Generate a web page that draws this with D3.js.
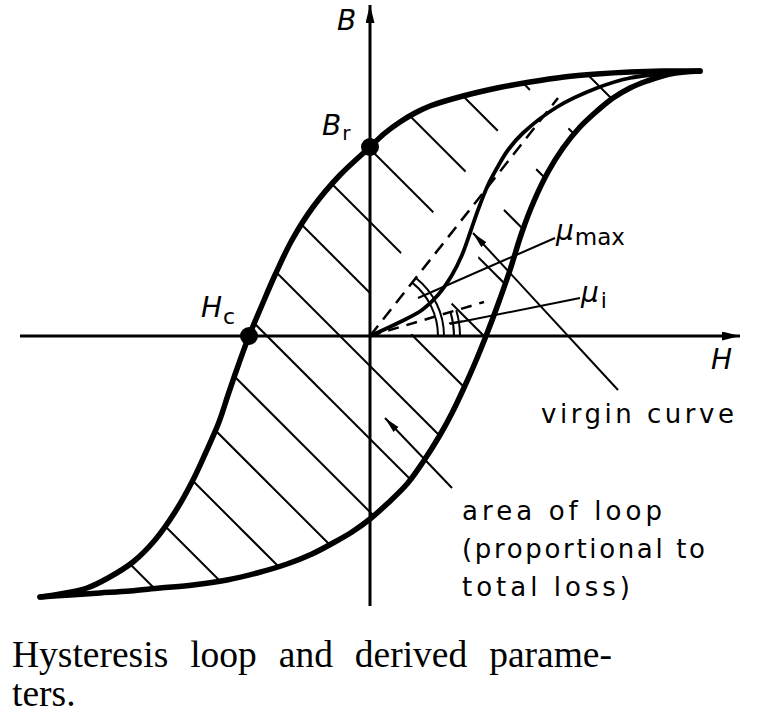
<!DOCTYPE html>
<html><head><meta charset="utf-8">
<script src="https://cdn.jsdelivr.net/npm/d3@7"></script>
<style>body{margin:0;background:#fff}</style>
</head><body>
<svg id="chart" width="760" height="723"></svg>
<script>
// ---- data (H, B) in arbitrary units ----
const upperBranch = [
  [3.30,2.65],[2.93,2.65],[2.60,2.64],[2.27,2.62],[1.94,2.59],[1.60,2.54],[1.27,2.48],
  [0.93,2.40],[0.60,2.30],[0.45,2.23],[0.30,2.14],[0.15,2.03],[0,1.89],[-0.30,1.61],
  [-0.57,1.29],[-0.78,0.96],[-0.95,0.61],[-1.08,0.31],[-1.21,0],[-1.32,-0.30],[-1.42,-0.59],
  [-1.51,-0.86],[-1.64,-1.16],[-1.77,-1.44],[-1.95,-1.76],[-2.15,-2.04],[-2.37,-2.26],
  [-2.62,-2.42],[-2.83,-2.52],[-3.10,-2.58],[-3.30,-2.61]
];
const lowerBranch = [
  [-3.30,-2.61],[-3.00,-2.59],[-2.70,-2.57],[-2.40,-2.55],[-2.10,-2.52],[-1.77,-2.49],
  [-1.43,-2.44],[-1.13,-2.37],[-0.83,-2.28],[-0.58,-2.18],[-0.37,-2.07],[-0.18,-1.96],
  [0,-1.83],[0.18,-1.67],[0.37,-1.48],[0.53,-1.26],[0.70,-0.99],[0.82,-0.77],[0.93,-0.54],
  [1.05,-0.27],[1.16,0],[1.27,0.29],[1.40,0.66],[1.52,1.04],[1.64,1.35],[1.78,1.64],
  [1.93,1.88],[2.10,2.09],[2.27,2.25],[2.43,2.38],[2.60,2.48],[2.77,2.55],[3.00,2.62],[3.30,2.65]
];
const virginCurve = [
  [0,0],[0.30,0.14],[0.52,0.26],[0.68,0.41],[0.82,0.61],[0.92,0.81],[1.00,1.03],
  [1.08,1.26],[1.18,1.51],[1.27,1.68],[1.38,1.86],[1.53,2.03],[1.87,2.29],[2.27,2.48],
  [2.60,2.58],[3.10,2.64]
];
const hatchLevels = [5.52,4.79,4.06,3.33,2.60,1.87,1.14,0.43,-0.30,-1.03,-1.76,-2.49,-3.22,-3.95,-4.68,-5.41];
const remanencePoint = [0, 1.89];
const coercivePoint = [-1.21, 0];
const muMaxLine = [[0,0],[1.88,2.38]];
const muInitLine = [[0,0],[1.14,0.34]];
const muMaxLeader = [[0.48,0.38],[1.85,0.98]];
const muInitLeader = [[0.80,0.12],[2.10,0.38]];
const virginLeader = [[2.48,-0.54],[1.03,1.03]];
const areaLeader = [[0.82,-1.52],[0.15,-0.82]];
const hAxisExtent = [-3.50, 3.70];
const bAxisExtent = [-2.70, 3.31];
const captionLine1 = ["Hysteresis","loop","and","derived","parame-"];
const captionLine2 = "ters.";

// ---- scales ----
const x = d3.scaleLinear().domain([-3.5, 3.7]).range([20, 740]);
const y = d3.scaleLinear().domain([-2.7, 3.36]).range([606, 0]);

const svg = d3.select("#chart");
const defs = svg.append("defs");
function marker(id, len, hw) {
  defs.append("marker").attr("id", id).attr("markerUnits","userSpaceOnUse")
    .attr("viewBox", `${-len} ${-hw} ${len} ${2*hw}`).attr("refX",0).attr("refY",0)
    .attr("markerWidth", len).attr("markerHeight", 2*hw).attr("orient","auto")
    .append("path").attr("d", `M${-len},${-hw}L0,0L${-len},${hw}Z`).attr("fill","#000");
}
marker("axArrow", 18, 4.5);
marker("ldArrow", 16, 3.5);

const curve = d3.line().x(d=>x(d[0])).y(d=>y(d[1])).curve(d3.curveCatmullRom.alpha(0.5));
const straight = d3.line().x(d=>x(d[0])).y(d=>y(d[1]));

const pU = curve(upperBranch), pL = curve(lowerBranch);
defs.append("clipPath").attr("id","loopClip").append("path")
  .attr("d", pU + pL.replace(/^M/, "L") + "Z");

// hatching
const hatchG = svg.append("g").attr("clip-path","url(#loopClip)");
hatchG.selectAll("path.h").data(hatchLevels).join("path").attr("class","h")
  .attr("d", k => straight([[-4, k+4],[4, k-4]]))
  .attr("stroke","#000").attr("stroke-width",2).attr("fill","none");
// white gaps around virgin curve and tangent line
hatchG.append("path").attr("d", curve(virginCurve.slice(0,13)))
  .attr("stroke","#fff").attr("stroke-width",32).attr("fill","none").attr("stroke-linecap","round");
hatchG.append("path").attr("d", straight(muMaxLine))
  .attr("stroke","#fff").attr("stroke-width",54).attr("fill","none");

// axes
svg.append("path").attr("d", straight([[hAxisExtent[0],0],[hAxisExtent[1],0]]))
  .attr("stroke","#000").attr("stroke-width",3).attr("marker-end","url(#axArrow)");
svg.append("path").attr("d", straight([[0,bAxisExtent[0]],[0,bAxisExtent[1]]]))
  .attr("stroke","#000").attr("stroke-width",3).attr("marker-end","url(#axArrow)");

// loop
svg.append("path").attr("d", pU).attr("fill","none").attr("stroke","#000").attr("stroke-width",5.5).attr("stroke-linecap","round");
svg.append("path").attr("d", pL).attr("fill","none").attr("stroke","#000").attr("stroke-width",5.5).attr("stroke-linecap","round");
// virgin curve
svg.append("path").attr("d", curve(virginCurve)).attr("fill","none").attr("stroke","#000").attr("stroke-width",3.8);

// dashed tangents
svg.append("path").attr("d", straight(muMaxLine)).attr("stroke","#000").attr("stroke-width",2.5).attr("stroke-dasharray","13 8");
svg.append("path").attr("d", straight(muInitLine)).attr("stroke","#000").attr("stroke-width",2.5).attr("stroke-dasharray","11 8");

// angle arcs
const ox = x(0), oy = y(0), pxPerUnit = x(1) - x(0);
const aMax = Math.atan2(muMaxLine[1][1], muMaxLine[1][0]);
const aInit = Math.atan2(muInitLine[1][1], muInitLine[1][0]);
[0.68, 0.74].forEach(r => {
  const p = d3.path(); p.arc(ox, oy, r*pxPerUnit, -aMax, 0, false);
  svg.append("path").attr("d", p.toString()).attr("fill","none").attr("stroke","#000").attr("stroke-width",2);
});
[0.84, 0.90].forEach(r => {
  const p = d3.path(); p.arc(ox, oy, r*pxPerUnit, -aInit, 0, false);
  svg.append("path").attr("d", p.toString()).attr("fill","none").attr("stroke","#000").attr("stroke-width",2);
});
{
  const am = aInit*0.55, r0 = 0.80*pxPerUnit, r1 = 0.94*pxPerUnit;
  svg.append("line").attr("x1", ox + r0*Math.cos(am)).attr("y1", oy - r0*Math.sin(am))
    .attr("x2", ox + r1*Math.cos(am)).attr("y2", oy - r1*Math.sin(am))
    .attr("stroke","#000").attr("stroke-width",1.8);
}

// leaders
svg.append("path").attr("d", straight(muMaxLeader)).attr("stroke","#000").attr("stroke-width",2);
svg.append("path").attr("d", straight(muInitLeader)).attr("stroke","#000").attr("stroke-width",2);
svg.append("path").attr("d", straight(virginLeader)).attr("stroke","#000").attr("stroke-width",2).attr("marker-end","url(#ldArrow)");
svg.append("path").attr("d", straight(areaLeader)).attr("stroke","#000").attr("stroke-width",2).attr("marker-end","url(#ldArrow)");

// points
svg.selectAll("circle.pt").data([remanencePoint, coercivePoint]).join("circle").attr("class","pt")
  .attr("cx", d=>x(d[0])).attr("cy", d=>y(d[1])).attr("r", 9).attr("fill","#000");

// labels
const sans = "DejaVu Sans, sans-serif";
function label(px, py, parts) {
  const t = svg.append("text").attr("x", px).attr("y", py).attr("font-family", sans).attr("fill","#000");
  parts.forEach(p => {
    const ts = t.append("tspan").text(p.t).attr("font-size", p.s);
    if (p.it) ts.attr("font-style","italic");
    if (p.dy) ts.attr("dy", p.dy);
    if (p.dx) ts.attr("dx", p.dx);
  });
  return t;
}
label(337, 30, [{t:"B", s:28, it:true}]);
label(711, 369, [{t:"H", s:28, it:true}]);
label(322, 135, [{t:"B", s:28, it:true},{t:"r", s:20, dy:5, dx:1}]);
label(201, 317, [{t:"H", s:28, it:true},{t:"c", s:22, dy:7, dx:1}]);
label(556, 240, [{t:"μ", s:28, it:true},{t:"max", s:23, dy:5, dx:1}]);
label(581, 302, [{t:"μ", s:28, it:true},{t:"i", s:22, dy:6, dx:2}]);

function block(px, py, txt, len) {
  svg.append("text").attr("x", px).attr("y", py).attr("font-family", sans).attr("font-size", 26)
    .attr("textLength", len).attr("lengthAdjust","spacing").text(txt);
}
block(541, 423, "virgin curve", 193);
block(462, 520, "area of loop", 200);
block(462, 558, "(proportional to", 243);
block(462, 596, "total loss)", 168);

// caption (justified)
const serif = "Liberation Serif, Times New Roman, serif";
const capL = 12, capR = 612, capSize = 37.5;
const words = svg.selectAll("text.cap").data(captionLine1).join("text").attr("class","cap")
  .attr("y", 667).attr("font-family", serif).attr("font-size", capSize).text(d=>d);
const widths = []; words.each(function(){ widths.push(this.getComputedTextLength()); });
const gap = (capR - capL - d3.sum(widths)) / (captionLine1.length - 1);
let cx = capL;
words.attr("x", (d,i) => { const v = cx; cx += widths[i] + gap; return v; });
svg.append("text").attr("x", capL).attr("y", 706).attr("font-family", serif).attr("font-size", capSize).text(captionLine2);
</script>
</body></html>
